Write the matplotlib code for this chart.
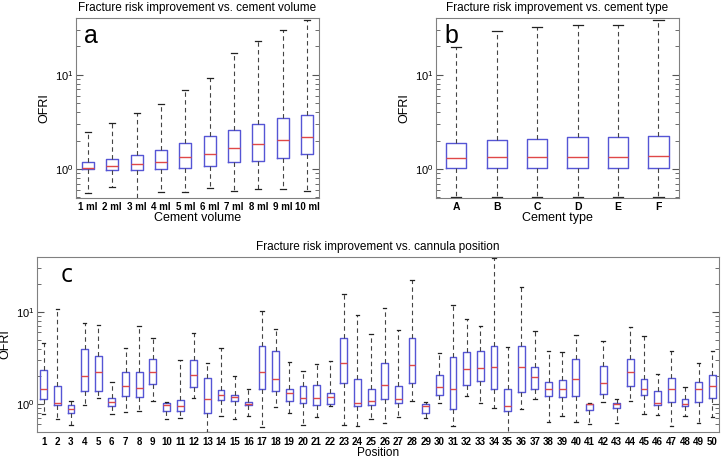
import numpy as np
import matplotlib.pyplot as plt
from matplotlib.ticker import LogLocator, NullFormatter

plt.rcParams['font.family'] = ['Liberation Sans', 'DejaVu Sans']

# panel a: cement volume
vol_labels = ['1 ml', '2 ml', '3 ml', '4 ml', '5 ml', '6 ml', '7 ml', '8 ml', '9 ml', '10 ml']
vol_wlo = [0.56, 0.65, 0.42, 0.57, 0.57, 0.63, 0.59, 0.61, 0.61, 0.59]
vol_q1 = [1.00, 0.98, 0.97, 1.00, 1.02, 1.07, 1.18, 1.23, 1.31, 1.45]
vol_med = [1.03, 1.07, 1.12, 1.20, 1.34, 1.43, 1.66, 1.86, 2.03, 2.21]
vol_q3 = [1.18, 1.27, 1.40, 1.58, 1.89, 2.24, 2.62, 3.03, 3.50, 3.76]
vol_whi = [2.45, 3.1, 3.9, 4.9, 6.9, 9.3, 17.0, 22.8, 29.7, 38.0]

# panel b: cement type
type_labels = ['A', 'B', 'C', 'D', 'E', 'F']
type_wlo = [0.51, 0.505, 0.505, 0.50, 0.50, 0.505]
type_q1 = [1.02, 1.02, 1.02, 1.02, 1.02, 1.02]
type_med = [1.30, 1.34, 1.34, 1.34, 1.34, 1.37]
type_q3 = [1.91, 2.05, 2.10, 2.17, 2.17, 2.22]
type_whi = [19.7, 28.8, 32.0, 33.4, 33.4, 38.5]

# panel c: cannula position
pos_labels = [str(i) for i in range(1, 51)]
pos_wlo = [0.77, 0.68, 0.59, 0.98, 1.17, 0.78, 0.82, 0.84, 1.08, 0.68,
           0.71, 1.16, 0.50, 0.74, 0.68, 0.74, 0.56, 0.93, 0.80, 0.59,
           0.72, 0.96, 0.59, 0.57, 0.68, 0.62, 0.73, 1.08, 0.71, 1.02,
           0.58, 1.23, 1.02, 0.91, 0.45, 0.88, 1.13, 0.64, 0.74, 0.64,
           0.60, 1.06, 0.62, 1.08, 0.78, 0.75, 0.57, 0.74, 0.62, 0.72]
pos_q1 = [1.13, 0.98, 0.80, 1.40, 1.40, 0.96, 1.22, 1.20, 1.65, 0.84,
          0.83, 1.53, 0.80, 1.10, 1.07, 0.98, 1.47, 1.39, 1.08, 1.02,
          0.98, 0.99, 1.70, 0.95, 0.98, 1.13, 1.02, 1.68, 0.80, 1.26,
          0.89, 1.61, 1.79, 1.46, 0.84, 1.35, 1.46, 1.21, 1.18, 1.22,
          0.87, 1.28, 0.90, 1.58, 1.24, 0.98, 1.06, 0.95, 1.06, 1.16]
pos_med = [1.46, 1.02, 0.89, 2.02, 2.24, 1.04, 1.56, 1.50, 2.24, 0.98,
           0.96, 2.07, 1.13, 1.24, 1.19, 1.00, 2.24, 1.89, 1.31, 1.16,
           1.17, 1.19, 2.79, 1.02, 1.08, 1.60, 1.14, 2.68, 0.95, 1.52,
           1.44, 2.43, 2.47, 2.51, 0.95, 2.51, 1.96, 1.44, 1.45, 1.89,
           0.99, 1.69, 0.99, 2.22, 1.46, 1.02, 1.45, 0.99, 1.45, 1.58]
pos_q3 = [2.34, 1.58, 0.98, 3.94, 3.30, 1.16, 2.21, 2.21, 3.12, 1.02,
          1.10, 3.03, 1.94, 1.43, 1.25, 1.04, 4.25, 3.76, 1.47, 1.58,
          1.62, 1.31, 5.20, 1.85, 1.44, 2.79, 1.55, 5.20, 1.00, 2.07,
          3.23, 3.70, 3.80, 4.28, 1.47, 4.28, 2.51, 1.75, 1.83, 3.12,
          1.01, 2.57, 1.02, 3.12, 1.89, 1.37, 1.92, 1.13, 1.75, 2.05]
pos_whi = [4.64, 10.8, 1.07, 7.6, 7.25, 1.73, 4.05, 7.1, 5.28, 1.04,
           3.03, 5.9, 2.77, 4.1, 2.04, 1.44, 10.4, 6.6, 2.84, 2.3,
           2.74, 2.9, 15.7, 9.2, 5.8, 11.0, 6.4, 22.6, 1.05, 3.58,
           11.9, 8.5, 7.06, 38.5, 4.17, 18.9, 6.15, 3.76, 3.67, 5.68,
           1.02, 4.83, 1.12, 6.8, 5.5, 2.1, 3.76, 1.53, 2.79, 3.8]

BOX = '#5555d5'
MED = '#e04848'
YLIM = (0.49, 40)


def draw(ax, labels, wlo, q1, med, q3, whi, title, xlabel, letter, fs, letter_font):
    stats = []
    for i in range(len(labels)):
        stats.append(dict(whislo=wlo[i], q1=q1[i], med=med[i], q3=q3[i],
                          whishi=whi[i], fliers=[], label=labels[i]))
    ax.bxp(stats, widths=0.5, showfliers=False, patch_artist=False,
           boxprops=dict(color=BOX, linewidth=1.0),
           medianprops=dict(color=MED, linewidth=1.0),
           whiskerprops=dict(color='#444444', linestyle=(0, (4, 3)), linewidth=0.8),
           capprops=dict(color='#222222', linewidth=0.9),
           capwidths=0.25)
    ax.set_yscale('log')
    ax.set_ylim(*YLIM)
    ax.set_xlim(0.5, len(labels) + 0.5)
    ax.yaxis.set_major_locator(LogLocator(base=10))
    ax.yaxis.set_minor_locator(LogLocator(base=10, subs=np.arange(2, 10)))
    ax.yaxis.set_minor_formatter(NullFormatter())
    ax.tick_params(axis='y', which='both', direction='in', right=True,
                   labelsize=8, color='#555555', pad=2)
    ax.tick_params(axis='y', which='major', length=5)
    ax.tick_params(axis='y', which='minor', length=3)
    ax.tick_params(axis='x', direction='in', length=0, labelsize=fs, pad=3)
    for lab in ax.get_xticklabels():
        lab.set_fontweight('bold')
    for s in ax.spines.values():
        s.set_color('#808080')
    ax.set_ylabel('OFRI', fontsize=9, labelpad=3)
    ax.set_xlabel(xlabel, fontsize=9, labelpad=0)
    ax.set_title(title, fontsize=8.5, pad=5)
    ax.text(0.035, 0.965, letter, transform=ax.transAxes, fontsize=18,
            va='top', ha='left', family=letter_font)


fig = plt.figure(figsize=(7.22, 4.61), dpi=100)
ax_a = fig.add_axes([0.105, 0.570, 0.337, 0.391])
ax_b = fig.add_axes([0.604, 0.570, 0.336, 0.391])
ax_c = fig.add_axes([0.051, 0.062, 0.945, 0.381])

draw(ax_a, vol_labels, vol_wlo, vol_q1, vol_med, vol_q3, vol_whi,
     'Fracture risk improvement vs. cement volume', 'Cement volume', 'a', 7, 'Liberation Sans')
draw(ax_b, type_labels, type_wlo, type_q1, type_med, type_q3, type_whi,
     'Fracture risk improvement vs. cement type', 'Cement type', 'b', 7.5, 'Liberation Sans')
draw(ax_c, pos_labels, pos_wlo, pos_q1, pos_med, pos_q3, pos_whi,
     'Fracture risk improvement vs. cannula position', 'Position', 'c', 7, 'Open Sans')
ax_c.xaxis.label.set_fontsize(8.5)
ax_c.title.set_position((0.5, 1.03))

fig.savefig('out.png', dpi=100)
